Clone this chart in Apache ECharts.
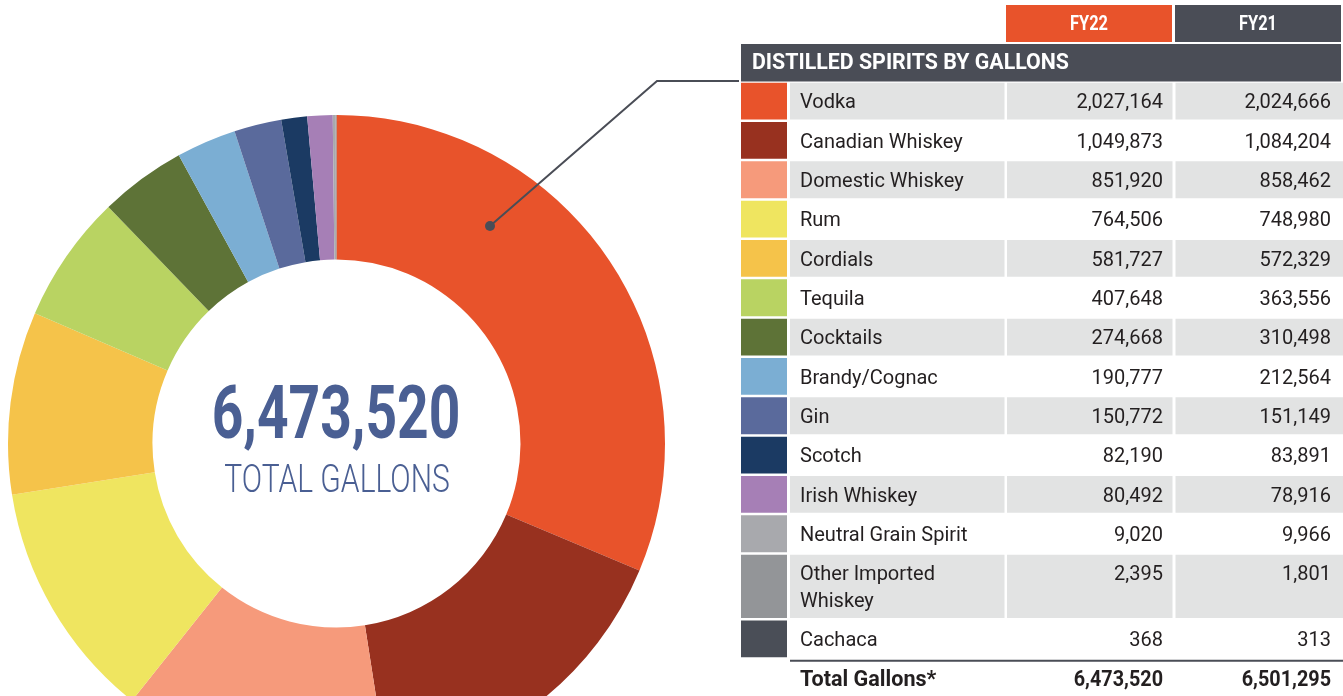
<!DOCTYPE html>
<html>
<head>
<meta charset="utf-8">
<title>Distilled Spirits by Gallons</title>
<script src="https://cdn.jsdelivr.net/npm/echarts@6/dist/echarts.min.js"></script>
<style>
    html, body { margin: 0; padding: 0; background: #fff; overflow: hidden; }
    #chart_main { width: 1343px; height: 696px; }
</style>
</head>
<body>
<div id="chart_main"></div>
<script>
// chart data
var categories = ['Vodka', 'Canadian Whiskey', 'Domestic Whiskey', 'Rum', 'Cordials', 'Tequila', 'Cocktails',
    'Brandy/Cognac', 'Gin', 'Scotch', 'Irish Whiskey', 'Neutral Grain Spirit', 'Other Imported\nWhiskey', 'Cachaca'];
var fy22 = [2027164, 1049873, 851920, 764506, 581727, 407648, 274668, 190777, 150772, 82190, 80492, 9020, 2395, 368];
var fy21 = [2024666, 1084204, 858462, 748980, 572329, 363556, 310498, 212564, 151149, 83891, 78916, 9966, 1801, 313];
var sliceColors = ['#E8532B', '#98311F', '#F69A7B', '#EFE560', '#F5C34A', '#B9D362', '#5E7337',
    '#7BAED3', '#5A6A9C', '#1B3A63', '#A67FB6', '#A8A9AD', '#939598', '#4A4E57'];
var yearLabels = ['FY22', 'FY21'];
var tableTitle = 'DISTILLED SPIRITS BY GALLONS';
var totalLabel = 'Total Gallons*';
var centerCaption = 'TOTAL GALLONS';

var DARK = '#4A4D56';
var ROW_GRAY = '#E2E3E3';
var TEXT = '#231F20';
var FONT = 'Roboto, "Liberation Sans", sans-serif';

function fmt(n) {
    return n.toLocaleString('en-US');
}
function sum(arr) {
    return arr.reduce(function (a, b) { return a + b; }, 0);
}

var myChart = echarts.init(document.getElementById('chart_main'), null, {renderer: 'canvas'});

// table built from the arrays
var elements = [];
// year header cells
var yearCols = [{x: 1006, w: 166, fill: '#E8532B'}, {x: 1175, w: 166, fill: DARK}];
yearLabels.forEach(function (lab, j) {
    var c = yearCols[j];
    elements.push({type: 'rect', shape: {x: c.x, y: 5, width: c.w, height: 37}, style: {fill: c.fill}});
    elements.push({
        type: 'text', x: c.x + c.w / 2, y: 25, scaleX: 0.78,
        style: {text: lab, font: 'bold 21px ' + FONT, fill: '#fff', align: 'center', verticalAlign: 'middle'}
    });
});
// title bar
elements.push({type: 'rect', shape: {x: 741, y: 44, width: 600, height: 37.5}, style: {fill: DARK}});
elements.push({
    type: 'text', x: 752, y: 63, scaleX: 0.97,
    style: {text: tableTitle, font: 'bold 22px ' + FONT, fill: '#fff', align: 'left', verticalAlign: 'middle'}
});

// rows
var pitch = 39.33, gap = 2.5, lineH = 26.4;
var rowTop = 82.7;
categories.forEach(function (name, i) {
    var lines = name.split('\n').length;
    var h = pitch - gap + (lines - 1) * lineH;
    elements.push({type: 'rect', shape: {x: 741, y: rowTop, width: 46, height: h}, style: {fill: sliceColors[i]}});
    if (i % 2 === 0) {
        elements.push({type: 'rect', shape: {x: 790, y: rowTop, width: 214.5, height: h}, style: {fill: ROW_GRAY}});
        elements.push({type: 'rect', shape: {x: 1007, y: rowTop, width: 165.5, height: h}, style: {fill: ROW_GRAY}});
        elements.push({type: 'rect', shape: {x: 1175.5, y: rowTop, width: 167.5, height: h}, style: {fill: ROW_GRAY}});
    }
    elements.push({
        type: 'text', x: 800, y: rowTop + 7.5,
        style: {text: name, font: '20px ' + FONT, fill: TEXT, align: 'left', verticalAlign: 'top', lineHeight: lineH}
    });
    elements.push({
        type: 'text', x: 1163, y: rowTop + 7.5,
        style: {text: fmt(fy22[i]), font: '20px ' + FONT, fill: TEXT, align: 'right', verticalAlign: 'top', lineHeight: lineH}
    });
    elements.push({
        type: 'text', x: 1331, y: rowTop + 7.5,
        style: {text: fmt(fy21[i]), font: '20px ' + FONT, fill: TEXT, align: 'right', verticalAlign: 'top', lineHeight: lineH}
    });
    rowTop += h + gap;
});
// total row
elements.push({type: 'line', shape: {x1: 790, y1: rowTop + 1, x2: 1343, y2: rowTop + 1}, style: {stroke: DARK, lineWidth: 2}});
var totalY = rowTop + 21;
elements.push({
    type: 'text', x: 800, y: totalY, scaleX: 0.98,
    style: {text: totalLabel, font: 'bold 22px ' + FONT, fill: TEXT, align: 'left', verticalAlign: 'middle'}
});
elements.push({
    type: 'text', x: 1163, y: totalY, scaleX: 0.9,
    style: {text: fmt(sum(fy22)), font: 'bold 22px ' + FONT, fill: TEXT, align: 'right', verticalAlign: 'middle'}
});
elements.push({
    type: 'text', x: 1331, y: totalY, scaleX: 0.9,
    style: {text: fmt(sum(fy21)), font: 'bold 22px ' + FONT, fill: TEXT, align: 'right', verticalAlign: 'middle'}
});

// centre of the donut
elements.push({
    type: 'text', x: 336, y: 419, scaleX: 0.745,
    style: {text: fmt(sum(fy22)), font: 'bold 74px ' + FONT, fill: '#4A5F93', align: 'center', verticalAlign: 'middle'}
});
elements.push({
    type: 'text', x: 337, y: 482, scaleX: 0.77,
    style: {text: centerCaption, font: '300 39px ' + FONT, fill: '#4A5F93', align: 'center', verticalAlign: 'middle'}
});

// callout from the vodka slice to the table
elements.push({
    type: 'polyline', z: 100,
    shape: {points: [[490, 226], [657, 81], [739, 81]]},
    style: {stroke: DARK, lineWidth: 2, fill: null}
});
elements.push({type: 'circle', z: 100, shape: {cx: 490, cy: 226, r: 5}, style: {fill: DARK}});

var option = {
    animation: false,
    backgroundColor: '#fff',
    color: sliceColors,
    graphic: {elements: elements},
    series: [
        {
            type: 'pie',
            silent: true,
            center: [336.5, 443.5],
            radius: [184, 328.5],
            startAngle: 90,
            clockwise: true,
            avoidLabelOverlap: false,
            label: {show: false},
            labelLine: {show: false},
            itemStyle: {borderWidth: 0},
            data: categories.map(function (c, i) {
                return {name: c.replace('\n', ' '), value: fy22[i]};
            })
        }
    ]
};
myChart.setOption(option);
</script>
</body>
</html>
